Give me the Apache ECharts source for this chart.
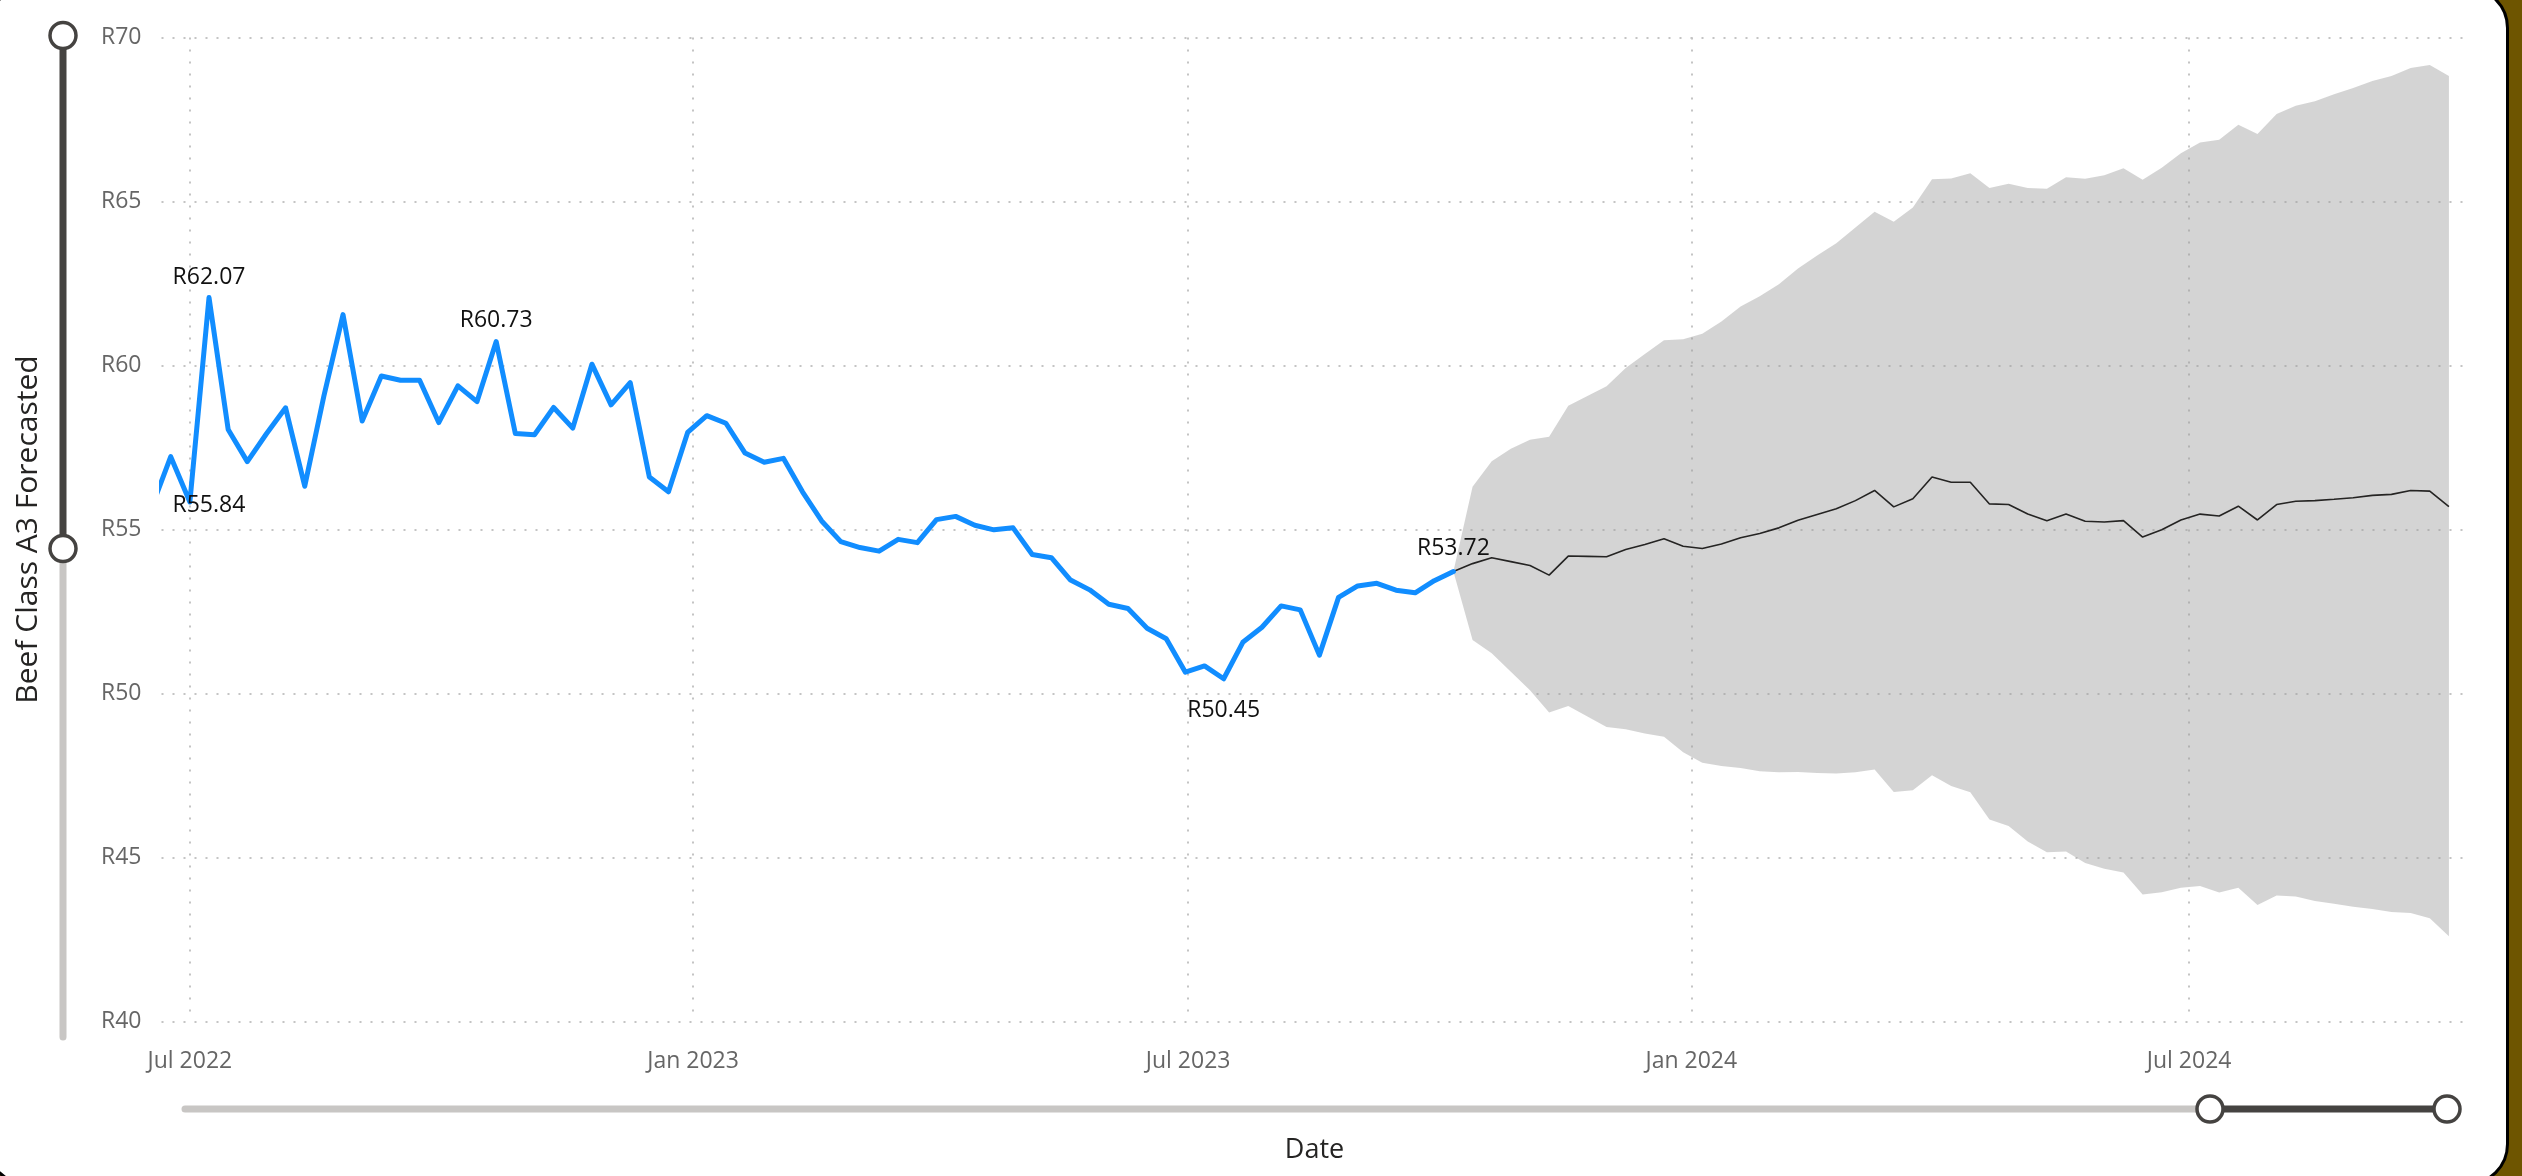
<!DOCTYPE html>
<html>
<head>
<meta charset="utf-8">
<script src="https://cdn.jsdelivr.net/npm/echarts@6/dist/echarts.min.js"></script>
<style>
  html, body { margin: 0; padding: 0; width: 2522px; height: 1176px; overflow: hidden; background: #6E5500; }
  #card { position: absolute; left: -14px; top: -14px; width: 2517px; height: 1194px; background: #ffffff; border: 3px solid #000000; border-radius: 42px; }
  #chart { position: absolute; left: 0; top: 0; width: 2522px; height: 1176px; }
</style>
</head>
<body>
<div id="card"></div>
<div id="chart"></div>
<script>
// ---------------- DATA ----------------
// Weekly observations; first (partly clipped) week starts 2022-06-17
const firstWeek = '2022-06-17';

// Actual Beef Class A3 price (R/kg), weekly, 2022-06-17 .. 2023-10-06
const actualValues = [
  55.67, 57.22, 55.84, 62.07, 58.05, 57.07, 57.92, 58.71, 56.32, 59.07,
  61.55, 58.31, 59.68, 59.55, 59.55, 58.26, 59.38, 58.90, 60.73, 57.93,
  57.89, 58.72, 58.09, 60.04, 58.80, 59.48, 56.60, 56.15, 57.96, 58.47,
  58.24, 57.33, 57.05, 57.17, 56.15, 55.26, 54.63, 54.45, 54.34, 54.70,
  54.60, 55.30, 55.40, 55.13, 54.99, 55.05, 54.24, 54.14, 53.46, 53.16,
  52.72, 52.59, 51.99, 51.67, 50.65, 50.84, 50.45, 51.56, 52.02, 52.67,
  52.55, 51.17, 52.93, 53.28, 53.36, 53.15, 53.07, 53.44, 53.72
];

// Forecast, weekly, 2023-10-06 .. 2024-10-04
const forecastValues = [
  53.72, 53.96, 54.14, 54.02, 53.90, 53.61, 54.19, 54.18, 54.17, 54.39,
  54.54, 54.72, 54.49, 54.42, 54.56, 54.75, 54.88, 55.05, 55.28, 55.46,
  55.63, 55.88, 56.19, 55.69, 55.94, 56.60, 56.44, 56.44, 55.78, 55.76,
  55.47, 55.27, 55.47, 55.25, 55.23, 55.27, 54.77, 54.99, 55.29, 55.47,
  55.41, 55.71, 55.29, 55.76, 55.86, 55.88, 55.92, 55.97, 56.04, 56.07,
  56.19, 56.17, 55.70
];
const upperBound = [
  53.72, 56.30, 57.08, 57.46, 57.74, 57.83, 58.77, 59.07, 59.37, 59.92,
  60.35, 60.77, 60.80, 60.97, 61.34, 61.80, 62.11, 62.48, 62.96, 63.35,
  63.73, 64.21, 64.69, 64.38, 64.82, 65.68, 65.70, 65.86, 65.41, 65.54,
  65.41, 65.39, 65.74, 65.69, 65.80, 66.01, 65.66, 66.03, 66.47, 66.80,
  66.88, 67.34, 67.06, 67.67, 67.92, 68.06, 68.27, 68.46, 68.67, 68.83,
  69.07, 69.16, 68.83
];
const lowerBound = [
  53.72, 51.63, 51.23, 50.66, 50.10, 49.42, 49.62, 49.30, 48.98, 48.91,
  48.78, 48.68, 48.21, 47.89, 47.79, 47.73, 47.63, 47.60, 47.61, 47.58,
  47.56, 47.60, 47.68, 47.00, 47.05, 47.51, 47.18, 46.99, 46.16, 45.96,
  45.49, 45.16, 45.18, 44.83, 44.66, 44.54, 43.87, 43.94, 44.08, 44.13,
  43.93, 44.08, 43.55, 43.84, 43.81, 43.67, 43.59, 43.50, 43.43, 43.34,
  43.31, 43.15, 42.60
];

// y-axis tick values
const yTicks = [40, 45, 50, 55, 60, 65, 70];
// x-axis tick labels (half-yearly)
const monthNames = ['Jan','Feb','Mar','Apr','May','Jun','Jul','Aug','Sep','Oct','Nov','Dec'];

// points carrying a data label (indices into actualValues)
const labelledActual = [2, 3, 18, 56, 68];

// ---------------- BUILD ----------------
const DAY = 86400000;
const WEEK = 7 * DAY;
const t0 = Date.parse(firstWeek + 'T00:00:00Z');
const actualDates = actualValues.map((_, i) => t0 + i * WEEK);
const fcStart = actualDates[actualDates.length - 1];
const fcDates = forecastValues.map((_, i) => fcStart + i * WEEK);

const FONT = "'Segoe UI', 'Open Sans', sans-serif";

const labelPlacement = {
  2:  { position: 'inside', offset: [19, 4] },
  3:  { position: 'top', distance: 8 },
  18: { position: 'top', distance: 9 },
  56: { position: 'bottom', distance: 20 },
  68: { position: 'top', distance: 11 }
};

const actualData = actualValues.map((v, i) => {
  if (labelledActual.indexOf(i) >= 0) {
    return {
      value: [actualDates[i], v],
      symbol: 'circle', symbolSize: 1,
      label: Object.assign({ show: true }, labelPlacement[i])
    };
  }
  return { value: [actualDates[i], v], symbol: 'none' };
});

const chart = echarts.init(document.getElementById('chart'), null, { renderer: 'canvas' });

const option = {
  useUTC: true,
  animation: false,
  backgroundColor: 'transparent',
  textStyle: { fontFamily: FONT },
  grid: { left: 161.5, top: 37.5, width: 2306, height: 984, containLabel: false },
  xAxis: {
    type: 'time',
    min: Date.UTC(2022, 5, 20, 15),
    max: Date.UTC(2024, 9, 10, 19),
    minInterval: 183 * DAY,
    maxInterval: 183 * DAY,
    axisLine: { show: false },
    axisTick: { show: false },
    axisLabel: {
      color: '#666666', fontSize: 23, fontFamily: FONT, margin: 28,
      showMinLabel: false, showMaxLabel: false,
      formatter: function (val) {
        const d = new Date(val);
        return monthNames[d.getUTCMonth()] + ' ' + d.getUTCFullYear();
      }
    },
    splitLine: {
      show: true, showMinLine: false, showMaxLine: false,
      lineStyle: { color: '#C4C4C4', width: 2, type: [2, 10] }
    },
    name: 'Date',
    nameLocation: 'middle',
    nameGap: 115,
    nameTextStyle: { color: '#252423', fontSize: 27, fontFamily: FONT }
  },
  yAxis: {
    type: 'value',
    min: yTicks[0],
    max: yTicks[yTicks.length - 1],
    interval: yTicks[1] - yTicks[0],
    axisLine: { show: false },
    axisTick: { show: false },
    axisLabel: {
      color: '#666666', fontSize: 23, fontFamily: FONT, margin: 20,
      formatter: function (v) { return 'R' + v; }
    },
    splitLine: { show: true, lineStyle: { color: '#C4C4C4', width: 2, type: [2, 9] } },
    name: 'Beef Class A3 Forecasted',
    nameLocation: 'middle',
    nameRotate: 90,
    nameGap: 118,
    nameTextStyle: { color: '#252423', fontSize: 30, fontFamily: FONT }
  },
  series: [
    {
      name: 'lower', type: 'line', stack: 'band', silent: true, symbol: 'none',
      lineStyle: { opacity: 0 }, z: 1,
      data: lowerBound.map((v, i) => [fcDates[i], v])
    },
    {
      name: 'band', type: 'line', stack: 'band', silent: true, symbol: 'none',
      lineStyle: { opacity: 0 }, z: 1,
      areaStyle: { color: '#A0A0A0', opacity: 0.45 },
      data: upperBound.map((v, i) => [fcDates[i], +(v - lowerBound[i]).toFixed(2)])
    },
    {
      name: 'forecast', type: 'line', symbol: 'none', z: 3,
      lineStyle: { color: '#252423', width: 1.6 },
      data: forecastValues.map((v, i) => [fcDates[i], v])
    },
    {
      name: 'actual', type: 'line', z: 4, clip: true,
      showSymbol: true, symbol: 'none',
      itemStyle: { color: '#118DFF' },
      lineStyle: { color: '#118DFF', width: 5, cap: 'round', join: 'round' },
      label: {
        show: false, color: '#111111', fontSize: 23, fontFamily: FONT,
        formatter: function (p) { return 'R' + p.value[1].toFixed(2); }
      },
      data: actualData
    }
  ],
  graphic: [
    { type: 'line', shape: { x1: 63, y1: 35.5, x2: 63, y2: 548.5 }, style: { stroke: '#454341', lineWidth: 7 } },
    { type: 'line', shape: { x1: 63, y1: 548.5, x2: 63, y2: 1037 }, style: { stroke: '#C8C6C4', lineWidth: 7, lineCap: 'round' } },
    { type: 'circle', shape: { cx: 63, cy: 35.5, r: 13 }, style: { fill: '#ffffff', stroke: '#454341', lineWidth: 3.5 } },
    { type: 'circle', shape: { cx: 63, cy: 548.5, r: 13 }, style: { fill: '#ffffff', stroke: '#454341', lineWidth: 3.5 } },
    { type: 'line', shape: { x1: 185, y1: 1109, x2: 2210, y2: 1109 }, style: { stroke: '#C8C6C4', lineWidth: 7, lineCap: 'round' } },
    { type: 'line', shape: { x1: 2210, y1: 1109, x2: 2447, y2: 1109 }, style: { stroke: '#454341', lineWidth: 7 } },
    { type: 'circle', shape: { cx: 2210, cy: 1109, r: 13 }, style: { fill: '#ffffff', stroke: '#454341', lineWidth: 3.5 } },
    { type: 'circle', shape: { cx: 2447, cy: 1109, r: 13 }, style: { fill: '#ffffff', stroke: '#454341', lineWidth: 3.5 } }
  ]
};

chart.setOption(option);
</script>
</body>
</html>
